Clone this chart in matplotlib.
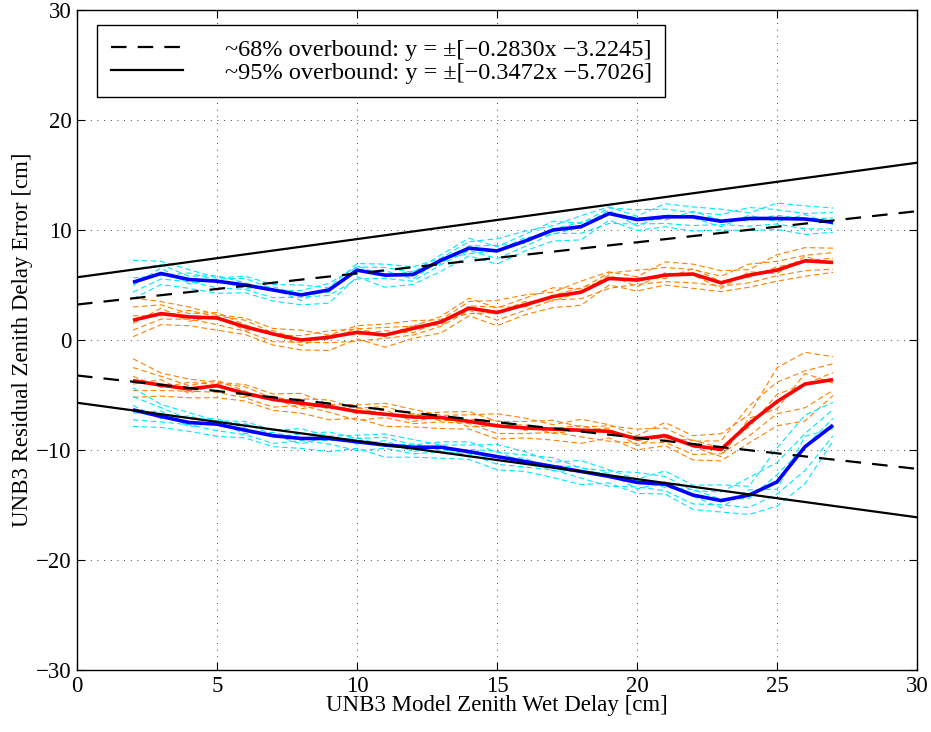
"""UNB3 residual zenith delay error vs model zenith wet delay, with overbound lines."""

import numpy as np
import matplotlib
matplotlib.use('Agg')
import matplotlib.pyplot as plt

plt.rcParams['font.family'] = ['Liberation Serif', 'DejaVu Serif']
plt.rcParams['axes.unicode_minus'] = True

# Bin centres (cm of modelled zenith wet delay)
zwd = [2, 3, 4, 5, 6, 7, 8, 9, 10, 11, 12, 13, 14, 15, 16, 17, 18, 19, 20,
       21, 22, 23, 24, 25, 26, 27]

# Thick curves: pooled ~95% (blue) and ~68% (red) error bounds
upper95 = [5.25, 6.05, 5.5, 5.35, 5.0, 4.55, 4.1, 4.55, 6.35, 5.9, 5.95, 7.25,
           8.35, 8.1, 9.0, 10.0, 10.3, 11.5, 10.95, 11.2, 11.2, 10.8, 11.05,
           11.05, 11.0, 10.7]
upper68 = [1.8, 2.4, 2.1, 2.0, 1.2, 0.55, 0.0, 0.25, 0.7, 0.45, 1.05, 1.65,
           2.9, 2.5, 3.2, 3.95, 4.35, 5.6, 5.45, 5.9, 6.0, 5.2, 5.9, 6.35,
           7.2, 7.05]
lower68 = [-3.7, -4.1, -4.45, -4.15, -4.85, -5.4, -5.75, -6.05, -6.5, -6.75,
           -7.0, -7.05, -7.4, -7.8, -8.0, -8.1, -8.2, -8.3, -9.0, -8.7, -9.6,
           -9.95, -7.6, -5.6, -4.0, -3.6]
lower95 = [-6.35, -6.95, -7.5, -7.65, -8.2, -8.7, -8.95, -8.95, -9.25, -9.55,
           -9.75, -9.75, -10.15, -10.6, -11.05, -11.5, -11.95, -12.4, -12.95,
           -13.1, -14.1, -14.6, -14.1, -12.9, -9.7, -7.75]

# Thin dashed curves (individual stations) read as deviations from the thick curves
dev_a = [1.2, 0.8, 0.3, 0.5, 0.2, -0.1, 0.4, 0.6, 0.3, 0.7, 0.2, 0.5, 0.9, 0.4,
         0.6, 0.8, 0.3, 0.5, 0.9, 0.7, 0.4, 0.6, 1.0, 0.8, 0.5, 0.9]
dev_b = [-0.9, -0.5, -0.2, -0.6, -0.4, -0.7, -0.2, -0.5, -0.8, -0.3, -0.6, -0.4,
         -0.2, -0.7, -0.5, -0.3, -0.6, -0.9, -0.4, -0.6, -0.8, -0.3, -0.7, -0.5,
         -0.9, -0.6]
dev_c = [0.4, -0.2, 0.6, 0.1, -0.3, 0.3, 0.0, -0.2, 0.4, -0.1, 0.3, -0.3, 0.2,
         0.5, -0.2, 0.1, 0.4, -0.1, 0.2, -0.3, 0.5, 0.1, -0.2, 0.3, 0.0, 0.4]
dev_d = [-0.3, 0.5, -0.4, 0.2, 0.6, 0.1, -0.5, 0.2, -0.2, 0.4, -0.4, 0.1, -0.5,
         0.0, 0.3, -0.4, 0.0, 0.3, -0.6, 0.2, -0.1, -0.5, 0.3, -0.3, 0.4, -0.2]
dev_e = [2.0, 1.1, 0.9, 0.3, 0.8, 0.5, 0.9, 0.2, 0.6, 1.0, 0.7, 0.2, 0.6, 1.1,
         0.9, 0.4, 1.0, 0.6, 0.3, 1.2, 0.9, 1.1, 0.5, 1.4, 1.2, 1.3]
dev_f = [-1.5, -1.0, -0.8, -1.1, -0.7, -1.0, -0.9, -1.2, -0.6, -1.1, -0.9,
         -1.0, -0.7, -1.2, -0.9, -1.0, -1.2, -0.6, -1.0, -0.9, -1.3, -0.8, -1.1,
         -1.0, -1.4, -0.9]
# spread is wider on the lower curves where they turn up near 24-26 cm
spread_upper = [1.0] * 26
spread_lower = [1.0] * 21 + [1.3, 1.6, 2.2, 2.4, 1.6]

# Overbound lines: y = +/-(slope*x + offset)
x_line = [0, 30]
slope68, off68 = 0.2830, 3.2245
slope95, off95 = 0.3472, 5.7026

x = np.array(zwd, dtype=float)
devs = [np.array(d) for d in (dev_a, dev_b, dev_c, dev_d, dev_e, dev_f)]

fig = plt.figure(figsize=(9.31, 7.32), dpi=100)
ax = fig.add_axes([0.0827, 0.0847, 0.9023, 0.9016])

thin = dict(lw=0.8, dashes=(5, 3))
bands = [
    (upper95, spread_upper, '#00e5ff', '#0000ff'),
    (upper68, spread_upper, '#ff8000', '#ff0000'),
    (lower68, spread_lower, '#ff8000', '#ff0000'),
    (lower95, spread_lower, '#00e5ff', '#0000ff'),
]
for main, spread, thin_col, main_col in bands:
    m = np.array(main)
    s = np.array(spread)
    for d in devs:
        ax.plot(x, m + d * s, color=thin_col, **thin)
for main, spread, thin_col, main_col in bands:
    ax.plot(x, main, color=main_col, lw=2.6, solid_capstyle='butt')

xl = np.array(x_line, dtype=float)
h68, = ax.plot(xl, slope68 * xl + off68, color='k', lw=1.6, dashes=(7, 5))
ax.plot(xl, -(slope68 * xl + off68), color='k', lw=1.6, dashes=(7, 5))
h95, = ax.plot(xl, slope95 * xl + off95, color='k', lw=1.6)
ax.plot(xl, -(slope95 * xl + off95), color='k', lw=1.6)

ax.set_xlim(0, 30)
ax.set_ylim(-30, 30)
ax.set_xticks(range(0, 31, 5))
ax.set_yticks(range(-30, 31, 10))
ax.grid(True, color='k', lw=0.6, linestyle=(0, (1, 7)))
ax.tick_params(direction='in', top=True, right=True, length=6, width=0.8,
               labelsize=16.5, pad=4)
for sp in ax.spines.values():
    sp.set_linewidth(1.0)

ax.set_xlabel('UNB3 Model Zenith Wet Delay [cm]', fontsize=16.5, labelpad=-1)
ax.set_ylabel('UNB3 Residual Zenith Delay Error [cm]', fontsize=16.5, labelpad=2)

leg = ax.legend(
    [h68, h95],
    ['~68% overbound: y = \u00b1[\u22120.2830x \u22123.2245]',
     '~95% overbound: y = \u00b1[\u22120.3472x \u22125.7026]'],
    loc='upper left', bbox_to_anchor=(0.024, 0.977), borderaxespad=0,
    fontsize=17.5, handlelength=3.0, handletextpad=1.7, labelspacing=0.05,
    borderpad=0.55, fancybox=False, framealpha=1, edgecolor='k',
)
leg.get_frame().set_linewidth(1.0)

fig.savefig('out.png', dpi=100)
plt.close()
